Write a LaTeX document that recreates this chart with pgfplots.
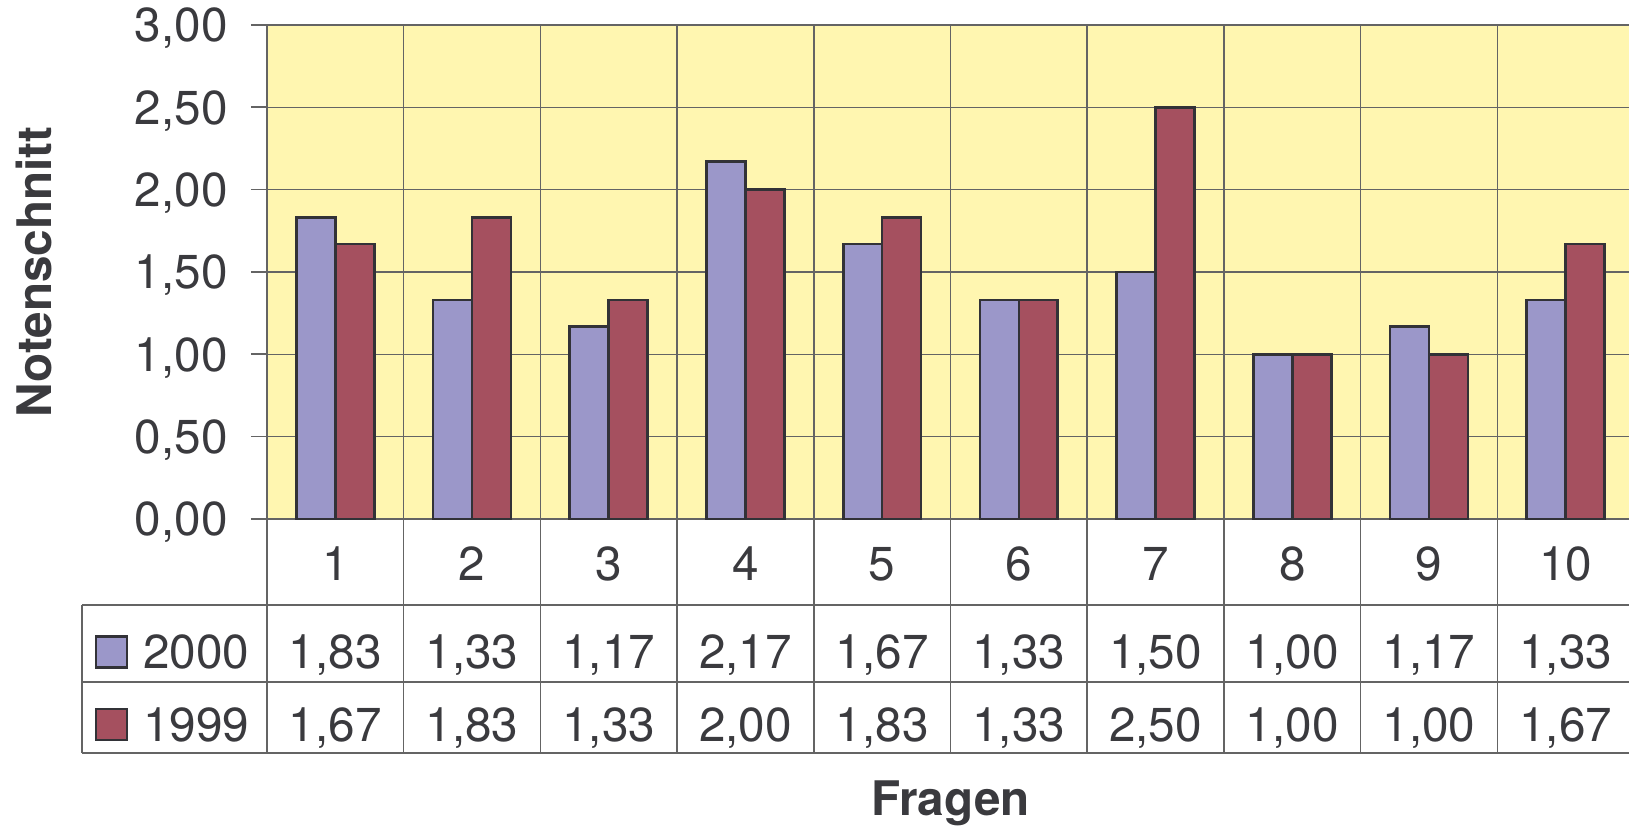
\documentclass[border=0pt]{standalone}
\usepackage{fontspec}
\setmainfont{TeX Gyre Heros}
\usepackage{pgfplots}
\usepackage{pgfplotstable}
\pgfplotsset{compat=1.18}
\definecolor{cblue}{RGB}{155,151,201}
\definecolor{cred}{RGB}{165,80,95}
\definecolor{cbg}{RGB}{255,246,176}
\definecolor{ctext}{RGB}{58,58,62}
\definecolor{cgrid}{RGB}{100,100,100}
\definecolor{cedge}{RGB}{50,50,55}
\pgfplotstableread{
x q a b
0 1 1.83 1.67
1 2 1.33 1.83
2 3 1.17 1.33
3 4 2.17 2.00
4 5 1.67 1.83
5 6 1.33 1.33
6 7 1.50 2.50
7 8 1.00 1.00
8 9 1.17 1.00
9 10 1.33 1.67
}\data
\begin{document}
\fontsize{14.3bp}{17bp}\selectfont
\begin{tikzpicture}
\begin{axis}[
  at={(80.1bp,92.1bp)}, anchor=south west,
  scale only axis, width=410.1bp, height=148.2bp,
  xmin=-0.5, xmax=9.5, ymin=0, ymax=3,
  clip=false,
  axis background/.style={fill=cbg},
  axis line style={cgrid, line width=0.5bp},
  tick align=outside, major tick length=4.8bp,
  xtick={0,1,2,3,4,5,6,7,8,9},
  xticklabels={1,2,3,4,5,6,7,8,9,10},
  major x tick style={draw=none},
  minor xtick={-0.5,0.5,1.5,2.5,3.5,4.5,5.5,6.5,7.5,8.5,9.5},
  minor x tick style={draw=none},
  xminorgrids=true,
  ytick={0,0.5,1,1.5,2,2.5,3},
  ymajorgrids=true,
  ytick style={cgrid, line width=0.5bp},
  grid style={cgrid, line width=0.45bp},
  minor grid style={cgrid, line width=0.45bp},
  major grid style={cgrid, line width=0.45bp},
  every tick label/.append style={text=ctext},
  /pgf/number format/assume math mode=true,
  yticklabel style={/pgf/number format/.cd, fixed, fixed zerofill, precision=2, use comma, /tikz/.cd,
    anchor=east, inner sep=0pt, text height=10.2bp, text depth=0pt, xshift=-6.8bp},
  xticklabel style={anchor=center, inner sep=0pt, text height=10.2bp, text depth=0pt, yshift=-8.6bp},
  xlabel={\bfseries Fragen},
  ylabel={\bfseries Notenschnitt},
  xlabel style={at={(axis description cs:0.5,-0.6012)}, anchor=base, text=ctext},
  ylabel style={at={(axis description cs:-0.1573,0.5)}, anchor=base, text=ctext},
  sqlegend/.style={legend image code/.code={\draw[##1] (0bp,-4.65bp) rectangle (9.3bp,4.65bp);}},
  legend style={at={(axis cs:-1.7607,-0.7034)}, anchor=north west, draw=none, fill=none,
    inner sep=0pt, outer sep=0pt, row sep=11.6bp, column sep=4.5bp,
    nodes={inner sep=0pt, text height=10.2bp, text depth=0pt, anchor=west, text=ctext}},
  legend cell align=left,
  every node near coord/.style={anchor=center, inner sep=0pt, text height=10.2bp, text depth=0pt, text=ctext},
]
\addplot[ybar, bar width=0.285, bar shift=-0.1425, fill=cblue, draw=cedge, line width=0.8bp, sqlegend]
  table[x=x, y=a]{\data};
\addlegendentry{2000}
\addplot[ybar, bar width=0.285, bar shift=0.1425, fill=cred, draw=cedge, line width=0.8bp, sqlegend]
  table[x=x, y=b]{\data};
\addlegendentry{1999}
% table values
\addplot[forget plot, draw=none, mark=none, point meta=explicit,
  nodes near coords={\pgfmathprintnumber[fixed,fixed zerofill,precision=2,use comma]{\pgfplotspointmeta}}]
  table[x=x, y expr=-0.8077, meta=a]{\data};
\addplot[forget plot, draw=none, mark=none, point meta=explicit,
  nodes near coords={\pgfmathprintnumber[fixed,fixed zerofill,precision=2,use comma]{\pgfplotspointmeta}}]
  table[x=x, y expr=-1.251, meta=b]{\data};
% table rules
\draw[cgrid, line width=0.45bp] (axis cs:-1.8533,-0.5223) -- (axis cs:9.5,-0.5223);
\draw[cgrid, line width=0.45bp] (axis cs:-1.8533,-0.9899) -- (axis cs:9.5,-0.9899);
\draw[cgrid, line width=0.45bp] (axis cs:-1.8533,-1.4211) -- (axis cs:9.5,-1.4211);
\draw[cgrid, line width=0.45bp] (axis cs:-1.8533,-0.5223) -- (axis cs:-1.8533,-1.4211);
\pgfplotsinvokeforeach{-0.5,0.5,1.5,2.5,3.5,4.5,5.5,6.5,7.5,8.5,9.5}{
  \draw[cgrid, line width=0.45bp] (axis cs:#1,0) -- (axis cs:#1,-1.4211);
}
\end{axis}
\pgfresetboundingbox
\useasboundingbox (0,0) rectangle (488.7bp,247.8bp);
\end{tikzpicture}
\end{document}
